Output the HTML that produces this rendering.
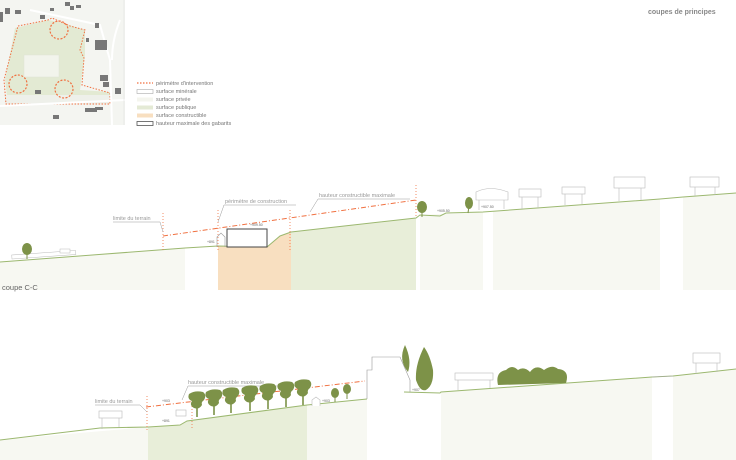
<!DOCTYPE html>
<html><head><meta charset="utf-8"><style>
html,body{margin:0;padding:0;background:#fff;width:736px;height:460px;overflow:hidden}
svg{display:block;font-family:"Liberation Sans",sans-serif}
</style></head><body>
<svg width="736" height="460" viewBox="0 0 736 460">
<defs>
<g id="t"><path d="M-8,-8 Q-2,-12 6,-10 Q10,-7 7,-2 Q4,0 5,3 Q2,8 -3,6 Q-8,3 -5,-1 Q-10,-3 -8,-8Z"/><rect x="-0.8" y="4" width="1.6" height="11"/></g>
</defs>
<!-- map -->
<rect x="0" y="0" width="125" height="125" fill="#f4f5f1"/>
<polygon points="15,28 48,20 60,22 85,30 85,55 80,90 110,92 110,103 8,104 5,80" fill="#e3ead3"/>
<rect x="24" y="55" width="35" height="22" fill="#f2f4ec" stroke="#dfe4d6" stroke-width="0.5"/>
<rect x="5" y="95" width="105" height="9" fill="#eef0ea"/>
<polyline points="18,26 48,20 52,18 70,26 85,30 80,50 84,58 82,85 110,93 110,104 6,104 4,80 18,26" fill="none" stroke="#f07040" stroke-width="1" stroke-dasharray="1.5,1.5"/>
<circle cx="59" cy="30" r="9" fill="none" stroke="#f07040" stroke-width="1.2" stroke-dasharray="2,1.5"/>
<circle cx="18" cy="84" r="9" fill="none" stroke="#f07040" stroke-width="1.2" stroke-dasharray="2,1.5"/>
<circle cx="64" cy="89" r="9" fill="none" stroke="#f07040" stroke-width="1.2" stroke-dasharray="2,1.5"/>
<path d="M30,10 L100,25 L110,60 L112,125 M120,20 Q112,40 112,60 M0,106 L125,100" fill="none" stroke="#fff" stroke-width="2"/>
<g fill="#777">
<rect x="5" y="8" width="5" height="6"/><rect x="15" y="10" width="6" height="4"/><rect x="50" y="8" width="4" height="3"/><rect x="65" y="2" width="5" height="4"/><rect x="70" y="6" width="4" height="4"/><rect x="76" y="5" width="5" height="3"/><rect x="40" y="15" width="5" height="4"/><rect x="95" y="40" width="12" height="10"/><rect x="86" y="38" width="3" height="4"/><rect x="100" y="75" width="8" height="6"/><rect x="103" y="82" width="6" height="5"/><rect x="115" y="88" width="6" height="6"/><rect x="35" y="90" width="6" height="4"/><rect x="85" y="108" width="12" height="4"/><rect x="95" y="107" width="8" height="3"/><rect x="53" y="115" width="6" height="4"/><rect x="0" y="12" width="3" height="10"/><rect x="95" y="23" width="4" height="5"/></g>
<line x1="124" y1="0" x2="124" y2="125" stroke="#ddd" stroke-width="0.5"/>
<!-- legend -->
<g font-size="5.5" fill="#777">
<line x1="137" y1="83" x2="153" y2="83" stroke="#f07040" stroke-width="1.2" stroke-dasharray="1.5,1.5"/><text x="156" y="85">périmètre d'intervention</text>
<rect x="137" y="89.5" width="16" height="4" fill="#fff" stroke="#aaa" stroke-width="0.6"/><text x="156" y="93">surface minérale</text>
<rect x="137" y="97.5" width="16" height="4" fill="#f4f5ee"/><text x="156" y="101">surface privée</text>
<rect x="137" y="105.5" width="16" height="4" fill="#e4ead5"/><text x="156" y="109">surface publique</text>
<rect x="137" y="113.5" width="16" height="4" fill="#f8dfc0"/><text x="156" y="117">surface constructible</text>
<rect x="137" y="121.5" width="16" height="4" fill="#fff" stroke="#555" stroke-width="0.8"/><text x="156" y="125">hauteur maximale des gabarits</text>
</g>
<text x="648" y="14" font-size="7" font-weight="bold" fill="#888">coupes de principes</text>

<!-- TOP SECTION -->
<polygon points="0,262 185,248 185,290 0,290" fill="#f7f8f2"/>
<polygon points="218,246 267,247 280,236 291,232 291,290 218,290" fill="#f8dfc0"/>
<polygon points="291,232 416,218 416,290 291,290" fill="#e8eed9"/>
<polygon points="420,215 483,212 483,290 420,290" fill="#f7f8f2"/>
<polygon points="493,211 660,199 660,290 493,290" fill="#f7f8f2"/>
<polygon points="683,197 736,193 736,290 683,290" fill="#f7f8f2"/>
<polyline points="0,262 185,248 218,246 267,247 280,236 291,232 416,218 420,215 440,216 446,213 483,212 660,199 683,197 736,193" fill="none" stroke="#9cb870" stroke-width="1"/>
<rect x="12" y="255" width="64" height="4" fill="#fff" stroke="#bbb" stroke-width="0.5" transform="rotate(-4 12 259)"/>
<rect x="60" y="249" width="10" height="4" fill="#fff" stroke="#bbb" stroke-width="0.5"/>
<ellipse cx="27" cy="249" rx="5" ry="6" fill="#7d9248"/><line x1="27" y1="253" x2="27" y2="259" stroke="#7d9248"/>
<rect x="227" y="229" width="40" height="18" fill="#fff" stroke="#444" stroke-width="1"/>
<polyline points="217,247 217,237 221,233 225,237 225,247" fill="none" stroke="#999" stroke-width="0.6"/>
<line x1="163" y1="236" x2="416" y2="200" stroke="#f07040" stroke-width="1" stroke-dasharray="5,2,1,2"/>
<g stroke="#f07040" stroke-width="0.8" stroke-dasharray="1,2">
<line x1="163" y1="213" x2="163" y2="250"/><line x1="218" y1="210" x2="218" y2="250"/><line x1="290" y1="210" x2="290" y2="250"/><line x1="416" y1="185" x2="416" y2="218"/></g>
<g stroke="#999" stroke-width="0.5" fill="none"><path d="M113,222 L160,222 L163,232"/><path d="M224,205 L296,205 M224,205 L218,222"/><path d="M318,199 L410,199 M318,199 L310,212"/></g>
<g font-size="5.5" fill="#999"><text x="113" y="220">limite du terrain</text><text x="225" y="203">périmètre de construction</text><text x="319" y="197">hauteur constructible maximale</text></g>
<g font-size="3.5" fill="#666"><text x="250" y="226">+909.50</text><text x="207" y="243">+891</text><text x="437" y="212">+905.50</text><text x="481" y="208">+907.50</text></g>
<ellipse cx="422" cy="207" rx="5" ry="6" fill="#7d9248"/><line x1="422" y1="211" x2="422" y2="217" stroke="#7d9248"/>
<ellipse cx="469" cy="203" rx="4" ry="6" fill="#7d9248"/><line x1="469" y1="206" x2="468" y2="213" stroke="#7d9248"/>
<g fill="#fff" stroke="#bbb" stroke-width="0.6">
<path d="M476,200 L476,192 Q490,185 508,192 L508,200 Z"/><line x1="479" y1="200" x2="479" y2="210"/><line x1="504" y1="200" x2="504" y2="209"/>
<rect x="519" y="189" width="22" height="8"/><path d="M522,197 V209 M538,197 V208"/>
<rect x="562" y="187" width="23" height="7"/><path d="M565,194 V205 M582,194 V204"/>
<rect x="614" y="177" width="31" height="11"/><path d="M619,188 V201 M641,188 V200"/>
<rect x="690" y="177" width="29" height="10"/><path d="M695,187 V196 M715,187 V195"/></g>
<text x="2" y="290" font-size="7.5" fill="#666">coupe C-C</text>

<!-- BOTTOM SECTION -->
<polygon points="0,440 148,427 148,460 0,460" fill="#f7f8f2"/>
<polygon points="148,427 180,425 187,421 307,405 307,460 148,460" fill="#e8eed9"/>
<polygon points="307,405 367,399 367,460 307,460" fill="#f7f8f2"/>
<polygon points="441,392 652,377 652,460 441,460" fill="#f7f8f2"/>
<polygon points="673,376 736,369 736,460 673,460" fill="#f7f8f2"/>
<polyline points="0,440 100,428 148,427 180,425 187,421 307,405 367,399" fill="none" stroke="#9cb870" stroke-width="1"/>
<polyline points="404,392 440,393 441,392 652,377 673,376 736,369" fill="none" stroke="#9cb870" stroke-width="1"/>
<line x1="652" y1="377" x2="673" y2="376" stroke="#aaa" stroke-width="0.6"/>
<polyline points="367,399 367,370 372,370 372,357 400,357 410,380 410,392" fill="none" stroke="#999" stroke-width="0.6"/>
<line x1="146" y1="407" x2="365" y2="381" stroke="#f07040" stroke-width="1" stroke-dasharray="5,2,1,2"/>
<g stroke="#f07040" stroke-width="0.8" stroke-dasharray="1,2"><line x1="147" y1="396" x2="147" y2="430"/><line x1="192" y1="400" x2="192" y2="430"/></g>
<g stroke="#999" stroke-width="0.5" fill="none"><path d="M95,405 L140,405 L147,412"/><path d="M188,386 L280,386 M188,386 L182,400"/></g>
<g font-size="5.5" fill="#999"><text x="95" y="403">limite du terrain</text><text x="188" y="384">hauteur constructible maximale</text></g>
<g font-size="3.5" fill="#666"><text x="162" y="402">+903</text><text x="162" y="422">+891</text><text x="322" y="402">+903</text><text x="412" y="391">+907</text></g>
<g fill="#fff" stroke="#bbb" stroke-width="0.6">
<rect x="99" y="411" width="23" height="7"/><path d="M102,418 V429 M119,418 V427"/>
<rect x="176" y="410" width="10" height="6"/>
<path d="M312,406 V400 L316,397 L320,400 V406"/>
<rect x="455" y="373" width="38" height="7"/><path d="M458,380 V390 M490,380 V388"/>
<rect x="693" y="353" width="27" height="10"/><path d="M696,363 V374 M717,363 V372"/></g>
<g fill="#7d9248">
<use href="#t" transform="translate(197,402)"/><use href="#t" transform="translate(214,400)"/><use href="#t" transform="translate(231,398)"/><use href="#t" transform="translate(250,396)"/><use href="#t" transform="translate(268,394)"/><use href="#t" transform="translate(286,392)"/><use href="#t" transform="translate(303,390)"/>
<ellipse cx="335" cy="393" rx="4" ry="5"/><rect x="334.5" y="396" width="1" height="6"/>
<ellipse cx="347" cy="389" rx="4" ry="5"/><rect x="346.5" y="392" width="1" height="7"/>
<path d="M405,345 Q398,360 408,372 Q412,360 405,345Z"/><path d="M424,347 Q415,365 416,380 Q420,392 426,390 Q434,385 433,370 Q430,355 424,347Z"/>
<path d="M498,385 Q495,372 506,370 Q512,364 518,370 Q524,366 530,372 Q536,364 544,370 Q552,364 558,369 Q570,370 566,383 Z"/>
</g>
</svg>
</body></html>
